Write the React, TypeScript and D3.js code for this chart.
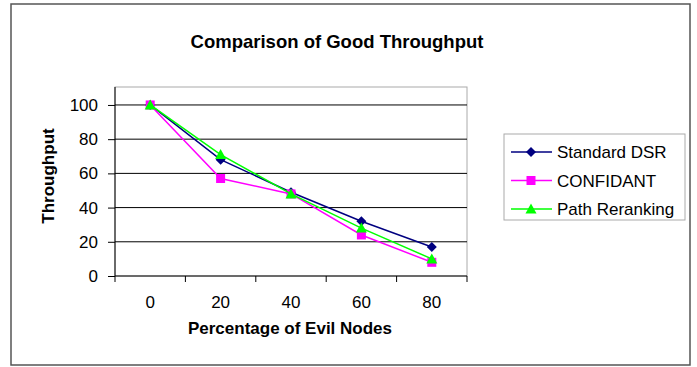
import React, { useEffect, useRef } from 'react';
import * as d3 from 'd3';

const categories = ['0', '20', '40', '60', '80'];
const yTicks = [0, 20, 40, 60, 80, 100];
const standardDsr = [100, 68, 49, 32, 17];
const confidant = [100, 57, 48, 24, 8];
const pathReranking = [100, 71, 48, 28, 10];

interface Series {
  name: string;
  values: number[];
  color: string;
  marker: 'diamond' | 'square' | 'triangle';
}

const series: Series[] = [
  { name: 'Standard DSR', values: standardDsr, color: '#000080', marker: 'diamond' },
  { name: 'CONFIDANT', values: confidant, color: '#ff00ff', marker: 'square' },
  { name: 'Path Reranking', values: pathReranking, color: '#00ff00', marker: 'triangle' },
];

const App = () => {
  const ref = useRef<SVGSVGElement>(null);

  useEffect(() => {
    const svg = d3.select(ref.current);
    svg.selectAll('*').remove();

    const font = 'Arial, "Liberation Sans", sans-serif';
    const left = 115;
    const right = 467;
    const top = 87;
    const bottom = 276;

    // outer frame
    svg
      .append('rect')
      .attr('x', 11)
      .attr('y', 4)
      .attr('width', 679)
      .attr('height', 361)
      .attr('fill', '#fff')
      .attr('stroke', '#555')
      .attr('stroke-width', 1.5);

    svg
      .append('text')
      .attr('x', 337)
      .attr('y', 48)
      .attr('text-anchor', 'middle')
      .attr('font-family', font)
      .attr('font-weight', 'bold')
      .attr('font-size', 18.5)
      .text('Comparison of Good Throughput');

    const x = d3.scaleBand().domain(categories).range([left, right]);
    const y = d3.scaleLinear().domain([0, 110.5]).range([bottom, top]);

    // plot area border
    svg
      .append('rect')
      .attr('x', left)
      .attr('y', top)
      .attr('width', right - left)
      .attr('height', bottom - top)
      .attr('fill', 'none')
      .attr('stroke', '#aaa')
      .attr('stroke-width', 1);

    // gridlines
    svg
      .append('g')
      .selectAll('line')
      .data(yTicks.filter((t) => t > 0))
      .enter()
      .append('line')
      .attr('x1', left)
      .attr('x2', right)
      .attr('y1', (d) => y(d))
      .attr('y2', (d) => y(d))
      .attr('stroke', '#000')
      .attr('stroke-width', 1);

    // y axis
    const yAxis = svg
      .append('g')
      .attr('transform', `translate(${left},0)`)
      .call(d3.axisLeft(y).tickValues(yTicks).tickSize(7).tickPadding(10).tickSizeOuter(0));
    yAxis.select('.domain').attr('d', `M0,${top}V${bottom}`).attr('stroke', '#000');
    yAxis.selectAll('text').attr('font-family', font).attr('font-size', 17).attr('fill', '#000');

    // x axis with ticks at band boundaries
    const xAxis = svg.append('g').attr('transform', `translate(0,${bottom})`);
    xAxis
      .append('line')
      .attr('x1', left)
      .attr('x2', right)
      .attr('stroke', '#000');
    const bounds = categories.map((c) => x(c) || 0).concat([right]);
    xAxis
      .selectAll('.tick')
      .data(bounds)
      .enter()
      .append('line')
      .attr('x1', (d) => d)
      .attr('x2', (d) => d)
      .attr('y1', 0)
      .attr('y2', 6)
      .attr('stroke', '#000');
    xAxis
      .selectAll('.lbl')
      .data(categories)
      .enter()
      .append('text')
      .attr('x', (d) => (x(d) || 0) + x.bandwidth() / 2)
      .attr('y', 32)
      .attr('text-anchor', 'middle')
      .attr('font-family', font)
      .attr('font-size', 17)
      .text((d) => d);

    svg
      .append('text')
      .attr('x', 290)
      .attr('y', 334)
      .attr('text-anchor', 'middle')
      .attr('font-family', font)
      .attr('font-weight', 'bold')
      .attr('font-size', 17)
      .text('Percentage of Evil Nodes');

    svg
      .append('text')
      .attr('transform', 'translate(54,176) rotate(-90)')
      .attr('text-anchor', 'middle')
      .attr('font-family', font)
      .attr('font-weight', 'bold')
      .attr('font-size', 17)
      .text('Throughput');

    const cx = (i: number) => (x(categories[i]) || 0) + x.bandwidth() / 2;

    const drawMarker = (g: d3.Selection<SVGGElement, unknown, null, undefined>, s: Series, px: number, py: number) => {
      if (s.marker === 'diamond') {
        g.append('path')
          .attr('d', `M${px},${py - 5}L${px + 5},${py}L${px},${py + 5}L${px - 5},${py}Z`)
          .attr('fill', s.color);
      } else if (s.marker === 'square') {
        g.append('rect')
          .attr('x', px - 4.5)
          .attr('y', py - 4.5)
          .attr('width', 9)
          .attr('height', 9)
          .attr('fill', s.color);
      } else {
        g.append('path')
          .attr('d', `M${px},${py - 5.5}L${px + 5.5},${py + 4.5}L${px - 5.5},${py + 4.5}Z`)
          .attr('fill', s.color);
      }
    };

    const line = d3
      .line<number>()
      .x((_, i) => cx(i))
      .y((d) => y(d));

    series.forEach((s) => {
      const g = svg.append('g');
      g.append('path')
        .attr('d', line(s.values) || '')
        .attr('fill', 'none')
        .attr('stroke', s.color)
        .attr('stroke-width', 1.5);
      s.values.forEach((v, i) => drawMarker(g, s, cx(i), y(v)));
    });

    // legend
    const legend = svg.append('g');
    legend
      .append('rect')
      .attr('x', 504)
      .attr('y', 134)
      .attr('width', 181)
      .attr('height', 86)
      .attr('fill', '#fff')
      .attr('stroke', '#aaa');
    series.forEach((s, i) => {
      const ly = 152 + i * 28.5;
      const g = legend.append('g');
      g.append('line')
        .attr('x1', 511)
        .attr('x2', 552)
        .attr('y1', ly)
        .attr('y2', ly)
        .attr('stroke', s.color)
        .attr('stroke-width', 1.5);
      drawMarker(g, s, 531, ly);
      g.append('text')
        .attr('x', 557)
        .attr('y', ly + 6)
        .attr('font-family', font)
        .attr('font-size', 17)
        .text(s.name);
    });
  }, []);

  return (
    <svg
      ref={ref}
      width={697}
      height={367}
      style={{ position: 'absolute', left: 0, top: 0, background: '#fff' }}
    />
  );
};

export default App;
